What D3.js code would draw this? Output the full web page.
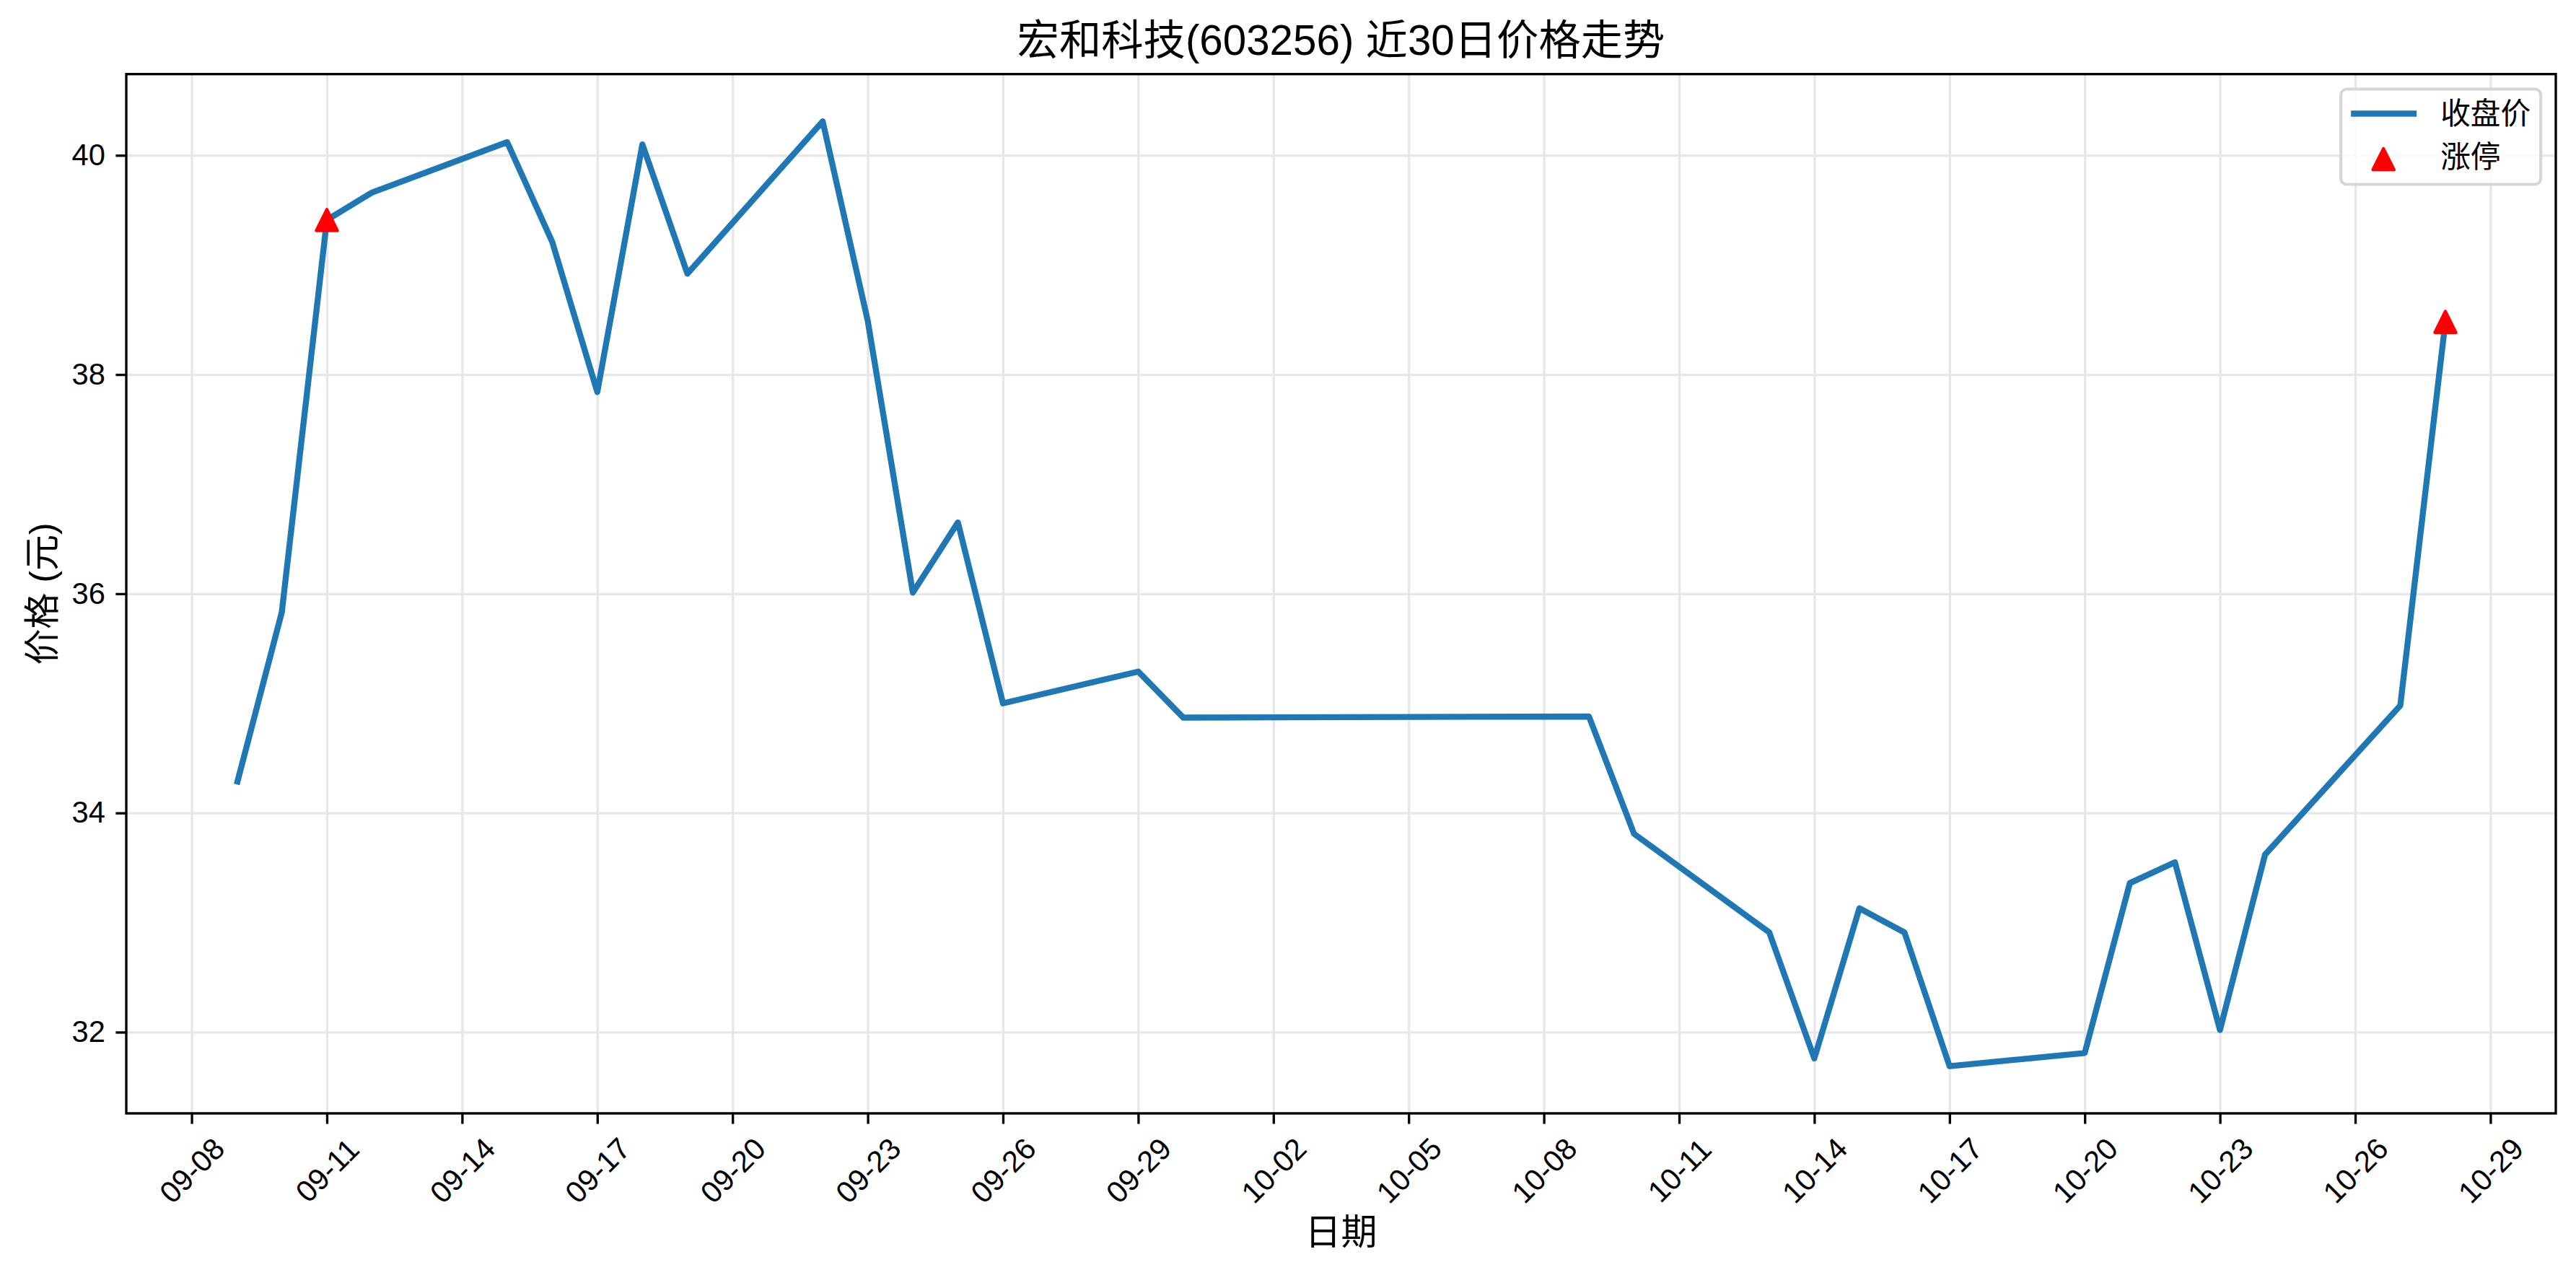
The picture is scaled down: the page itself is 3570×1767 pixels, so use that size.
<!DOCTYPE html>
<html>
<head>
<meta charset="utf-8">
<script src="https://cdn.jsdelivr.net/npm/d3@7"></script>
<style>
  body { margin: 0; background: #fff; }
  text { font-family: "Liberation Sans", "Noto Sans CJK SC", sans-serif; fill: #000; }
</style>
</head>
<body>
<div id="chart-area"></div>
<script>
// 收盘价 data (2025)
var dates = ["2025-09-09","2025-09-10","2025-09-11","2025-09-12","2025-09-15","2025-09-16","2025-09-17","2025-09-18","2025-09-19",
             "2025-09-22","2025-09-23","2025-09-24","2025-09-25","2025-09-26","2025-09-29","2025-09-30","2025-10-09","2025-10-10",
             "2025-10-13","2025-10-14","2025-10-15","2025-10-16","2025-10-17","2025-10-20","2025-10-21","2025-10-22","2025-10-23",
             "2025-10-24","2025-10-27","2025-10-28"];
var closes = [34.26, 35.83, 39.41, 39.66, 40.12, 39.21, 37.84, 40.10, 38.92,
              40.31, 38.49, 36.01, 36.65, 35.00, 35.29, 34.87, 34.88, 33.81,
              32.91, 31.76, 33.13, 32.91, 31.69, 31.81, 33.36, 33.55, 32.02,
              33.62, 34.98, 38.48];
var limitUpDates = ["2025-09-11", "2025-10-28"];

var xTickLabels = ["09-08","09-11","09-14","09-17","09-20","09-23","09-26","09-29","10-02","10-05",
                   "10-08","10-11","10-14","10-17","10-20","10-23","10-26","10-29"];
var yTickValues = [32, 34, 36, 38, 40];

var title = "宏和科技(603256) 近30日价格走势";
var xLabel = "日期";
var yLabel = "价格 (元)";

var W = 3570, H = 1767;
var margin = {top: 102.7, right: 28, bottom: 224, left: 175};
var width = W - margin.left - margin.right,
    height = H - margin.top - margin.bottom;

var pt = 300 / 72;   // figure was 300 dpi
var parse = d3.timeParse("%Y-%m-%d");

var data = dates.map(function(d, i) { return {date: parse(d), close: closes[i]}; });
var limitUp = data.filter(function(d) { return limitUpDates.indexOf(d3.timeFormat("%Y-%m-%d")(d.date)) >= 0; });
var xTicks = xTickLabels.map(function(s) { return parse("2025-" + s); });

var svg = d3.select("#chart-area")
  .append("svg")
    .attr("width", W)
    .attr("height", H)
  .append("g")
    .attr("transform", "translate(" + margin.left + "," + margin.top + ")");

// matplotlib style 5% margins
var xExt = d3.extent(data, function(d) { return d.date; });
var xPad = (xExt[1] - xExt[0]) * 0.05;
var x = d3.scaleTime()
  .domain([new Date(+xExt[0] - xPad), new Date(+xExt[1] + xPad)])
  .range([0, width]);

var yExt = d3.extent(data, function(d) { return d.close; });
var yPad = (yExt[1] - yExt[0]) * 0.05;
var y = d3.scaleLinear()
  .domain([yExt[0] - yPad, yExt[1] + yPad])
  .range([height, 0]);

// grid
var gridColor = "#e7e7e7";
svg.append("g")
  .call(d3.axisBottom(x).tickValues(xTicks).tickSize(height).tickFormat(""))
  .call(function(g) { g.select(".domain").remove(); })
  .selectAll("line").attr("stroke", gridColor).attr("stroke-width", 0.8 * pt);
svg.append("g")
  .call(d3.axisLeft(y).tickValues(yTickValues).tickSize(-width).tickFormat(""))
  .call(function(g) { g.select(".domain").remove(); })
  .selectAll("line").attr("stroke", gridColor).attr("stroke-width", 0.8 * pt);

// line
var line = d3.line()
  .x(function(d) { return x(d.date); })
  .y(function(d) { return y(d.close); });

svg.append("path")
  .datum(data)
  .attr("fill", "none")
  .attr("stroke", "#1f77b4")
  .attr("stroke-width", 2 * pt)
  .attr("stroke-linejoin", "round")
  .attr("d", line);

// limit up markers
var tri = function(h) { return "M0," + (-h) + "L" + h + "," + h + "L" + (-h) + "," + h + "Z"; };
svg.selectAll(".limit")
  .data(limitUp)
  .enter().append("path")
    .attr("class", "limit")
    .attr("transform", function(d) { return "translate(" + x(d.date) + "," + y(d.close) + ")"; })
    .attr("d", tri(14.7))
    .attr("fill", "red")
    .attr("stroke", "red")
    .attr("stroke-width", 1 * pt)
    .attr("stroke-linejoin", "round");

// axes
var tickFont = 10 * pt;
var xAxis = svg.append("g")
  .attr("transform", "translate(0," + height + ")")
  .call(d3.axisBottom(x).tickValues(xTicks).tickFormat(d3.timeFormat("%m-%d"))
        .tickSize(3.5 * pt).tickSizeOuter(0));
xAxis.select(".domain").remove();
xAxis.selectAll("line").attr("stroke", "#000").attr("stroke-width", 0.8 * pt);
xAxis.selectAll("text")
  .style("font-size", tickFont + "px")
  .attr("y", 0)
  .attr("dy", null)
  .attr("text-anchor", "middle")
  .attr("dominant-baseline", "central")
  .attr("transform", "translate(0,79) rotate(-45)");

var yAxis = svg.append("g")
  .call(d3.axisLeft(y).tickValues(yTickValues).tickSize(3.5 * pt).tickPadding(3.5 * pt).tickSizeOuter(0));
yAxis.select(".domain").remove();
yAxis.selectAll("line").attr("stroke", "#000").attr("stroke-width", 0.8 * pt);
yAxis.selectAll("text").style("font-size", tickFont + "px");

// spines
svg.append("rect")
  .attr("width", width)
  .attr("height", height)
  .attr("fill", "none")
  .attr("stroke", "#000")
  .attr("stroke-width", 0.8 * pt);

// title and labels
svg.append("text")
  .attr("x", width / 2)
  .attr("y", -27)
  .attr("text-anchor", "middle")
  .style("font-size", (14 * pt) + "px")
  .text(title);

svg.append("text")
  .attr("x", width / 2)
  .attr("y", height + 182)
  .attr("text-anchor", "middle")
  .style("font-size", (12 * pt) + "px")
  .text(xLabel);

svg.append("text")
  .attr("transform", "translate(" + (76 - margin.left) + "," + (height / 2) + ") rotate(-90)")
  .attr("text-anchor", "middle")
  .style("font-size", (12 * pt) + "px")
  .text(yLabel);

// legend
var lgW = 277, lgH = 132;
var legend = svg.append("g")
  .attr("transform", "translate(" + (width - 0.5 * tickFont - lgW) + "," + (0.5 * tickFont) + ")");
legend.append("rect")
  .attr("width", lgW)
  .attr("height", lgH)
  .attr("rx", 8)
  .attr("fill", "#fff")
  .attr("fill-opacity", 0.8)
  .attr("stroke", "#d6d6d6")
  .attr("stroke-width", 1 * pt);
legend.append("line")
  .attr("x1", 14).attr("x2", 105)
  .attr("y1", 34).attr("y2", 34)
  .attr("stroke", "#1f77b4")
  .attr("stroke-width", 2 * pt);
legend.append("text")
  .attr("x", 138).attr("y", 34)
  .attr("dominant-baseline", "central")
  .style("font-size", tickFont + "px")
  .text("收盘价");
legend.append("path")
  .attr("transform", "translate(59,97)")
  .attr("d", tri(14.7))
  .attr("fill", "red")
  .attr("stroke", "red")
  .attr("stroke-width", 1 * pt)
  .attr("stroke-linejoin", "round");
legend.append("text")
  .attr("x", 138).attr("y", 94)
  .attr("dominant-baseline", "central")
  .style("font-size", tickFont + "px")
  .text("涨停");
</script>
</body>
</html>
